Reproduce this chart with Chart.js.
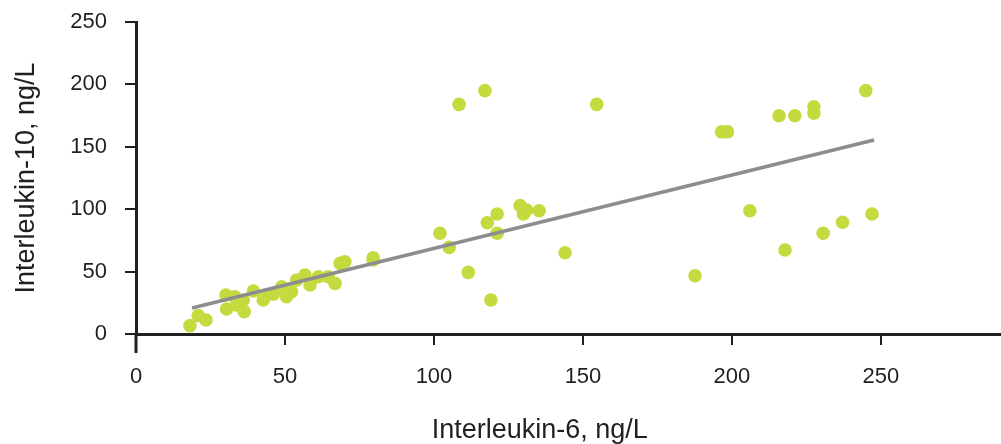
<!DOCTYPE html>
<html>
<head>
<meta charset="utf-8">
<script src="https://cdn.jsdelivr.net/npm/chart.js@4/dist/chart.umd.min.js"></script>
<style>
    html, body { margin: 0; padding: 0; background: #fff; }
    #wrap { width: 1001px; height: 444px; }
</style>
</head>
<body>
<div id="wrap"><canvas id="chart" width="1001" height="444"></canvas></div>
<script>
// values (ng/L)
const il6 = [18.1, 20.9, 23.5, 30.2, 30.4, 33.2, 33.8, 36.3, 36.0, 39.4, 42.7, 43.8, 46.1, 48.9, 50.5, 52.2, 53.9, 56.7, 58.4, 61.2, 64.5, 66.8, 68.5, 70.1, 79.6, 79.6,
    102, 105.1, 108.4, 111.5, 117.1, 117.9, 119.1, 121.2, 121.2, 128.9, 130, 131.1, 135.3, 144, 154.6, 187.6, 196.5, 198.5, 206, 215.8, 217.8, 221.1, 227.5, 227.5, 230.6, 237.1, 244.9, 247];
const il10 = [6.7, 14.7, 11.2, 31.3, 20, 29.9, 23.2, 17.9, 27.2, 34.5, 27.2, 31.3, 31.8, 37.9, 29.9, 33.9, 43.3, 47.3, 39.3, 45.9, 45.9, 40.6, 56.6, 57.9, 59.3, 61,
    80.7, 69.4, 184, 49.4, 195, 89.2, 27.2, 96.2, 80.7, 102.9, 96.2, 99.4, 98.8, 65.1, 184, 46.7, 162, 162, 98.8, 174.9, 67.3, 174.9, 182.1, 177, 80.7, 89.5, 195, 96.2];

// trend line end points
const trendX = [18.8, 247.7];
const trendY = [20.8, 155.4];

const xTicks = [0, 50, 100, 150, 200, 250];
const yTicks = [0, 50, 100, 150, 200, 250];

const xTitle = 'Interleukin-6, ng/L';
const yTitle = 'Interleukin-10, ng/L';

const FONT = '"Liberation Sans", Arial, sans-serif';
const INK = '#231f20';

// y axis runs a bit below the x axis, x axis runs to the edge, x title sits left of centre
const axisExtras = {
    id: 'axisExtras',
    afterDraw(chart) {
        const { ctx, chartArea, scales } = chart;
        const axisY = scales.x._borderValue ?? chartArea.bottom + 1.5;
        ctx.save();
        ctx.strokeStyle = INK;
        ctx.lineWidth = 3;
        ctx.beginPath();
        ctx.moveTo(chartArea.left, chartArea.bottom);
        ctx.lineTo(chartArea.left, chartArea.bottom + 19);
        ctx.moveTo(chartArea.right - 3, axisY);
        ctx.lineTo(chart.width, axisY);
        ctx.stroke();
        ctx.fillStyle = INK;
        ctx.font = `27px ${FONT}`;
        ctx.textAlign = 'center';
        ctx.textBaseline = 'middle';
        ctx.fillText(xTitle, scales.x.getPixelForValue(135.5), 431);
        ctx.restore();
    },
};

new Chart(document.getElementById('chart'), {
    type: 'scatter',
    data: {
        datasets: [
            {
                type: 'line',
                data: trendX.map((x, i) => ({ x, y: trendY[i] })),
                borderColor: '#8d8d8f',
                borderWidth: 3.5,
                pointRadius: 0,
                order: 0,
            },
            {
                data: il6.map((x, i) => ({ x, y: il10[i] })),
                backgroundColor: '#c5da3e',
                borderWidth: 0,
                pointRadius: 6.8,
                pointHoverRadius: 6.8,
                order: 1,
            },
        ],
    },
    options: {
        responsive: false,
        animation: false,
        events: [],
        layout: { padding: { top: 22, right: 1, left: 0, bottom: 0 } },
        plugins: { legend: { display: false }, tooltip: { enabled: false } },
        scales: {
            x: {
                type: 'linear',
                min: 0,
                max: 288,
                afterBuildTicks: (s) => { s.ticks = xTicks.map((v) => ({ value: v })); },
                afterFit: (s) => { s.height = 110; s.paddingLeft = 0; s.paddingRight = 0; },
                border: { color: INK, width: 3 },
                grid: { drawOnChartArea: false, tickLength: 11, tickColor: INK, lineWidth: 2 },
                ticks: { color: INK, padding: 19, font: { family: FONT, size: 22 } },
                title: { display: false },
            },
            y: {
                min: 0,
                max: 250,
                afterBuildTicks: (s) => { s.ticks = yTicks.map((v) => ({ value: v })); },
                afterFit: (s) => { s.width = 136; s.paddingTop = 0; s.paddingBottom = 0; },
                border: { color: INK, width: 3 },
                grid: { drawOnChartArea: false, tickLength: 11, tickColor: INK, lineWidth: 2 },
                ticks: { color: INK, padding: 18, font: { family: FONT, size: 22 } },
                title: {
                    display: true,
                    text: yTitle,
                    color: INK,
                    font: { family: FONT, size: 27 },
                    padding: { top: 10, bottom: 0 },
                },
            },
        },
    },
    plugins: [axisExtras],
});
</script>
</body>
</html>
